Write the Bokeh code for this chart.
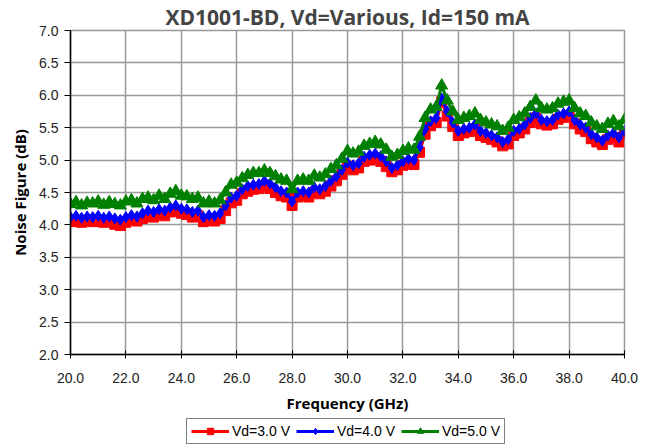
from bokeh.plotting import figure
from bokeh.layouts import column
from bokeh.models import Legend, LegendItem, FixedTicker, Range1d, NumeralTickFormatter, ColumnDataSource
from bokeh.embed import file_html
from bokeh.resources import INLINE

# Frequency points (GHz), 0.2 GHz spacing
freq = [round(20.0 + 0.2 * i, 1) for i in range(101)]

nf_vd3 = [
    4.05, 4.06, 4.04, 4.06, 4.05, 4.06, 4.04, 4.05, 4.01, 3.99,
    4.04, 4.08, 4.06, 4.10, 4.14, 4.12, 4.16, 4.14, 4.20, 4.22,
    4.18, 4.16, 4.12, 4.14, 4.05, 4.08, 4.06, 4.10, 4.22, 4.34,
    4.38, 4.48, 4.52, 4.55, 4.56, 4.60, 4.56, 4.50, 4.45, 4.43,
    4.30, 4.43, 4.45, 4.43, 4.50, 4.48, 4.52, 4.60, 4.68, 4.78,
    4.90, 4.85, 4.88, 4.98, 5.00, 5.03, 4.98, 4.90, 4.82, 4.85,
    4.92, 4.95, 4.93, 5.12, 5.40, 5.53, 5.58, 5.90, 5.68, 5.52,
    5.38, 5.42, 5.44, 5.48, 5.38, 5.35, 5.32, 5.28, 5.22, 5.25,
    5.38, 5.42, 5.48, 5.58, 5.65, 5.56, 5.54, 5.56, 5.63, 5.66,
    5.68, 5.56, 5.48, 5.44, 5.33, 5.28, 5.24, 5.32, 5.35, 5.28,
    5.40,
]

nf_vd4 = [
    4.12, 4.14, 4.11, 4.13, 4.12, 4.14, 4.11, 4.13, 4.10, 4.08,
    4.12, 4.15, 4.13, 4.18, 4.22, 4.20, 4.24, 4.22, 4.27, 4.30,
    4.25, 4.24, 4.20, 4.22, 4.12, 4.15, 4.14, 4.18, 4.30, 4.42,
    4.45, 4.55, 4.60, 4.62, 4.63, 4.68, 4.64, 4.58, 4.52, 4.50,
    4.36, 4.50, 4.52, 4.50, 4.58, 4.55, 4.60, 4.68, 4.75, 4.85,
    4.96, 4.92, 4.95, 5.05, 5.08, 5.10, 5.06, 4.98, 4.88, 4.92,
    4.98, 5.02, 5.00, 5.20, 5.48, 5.60, 5.65, 5.95, 5.75, 5.58,
    5.45, 5.48, 5.50, 5.55, 5.45, 5.42, 5.38, 5.35, 5.28, 5.32,
    5.45, 5.48, 5.55, 5.65, 5.72, 5.62, 5.60, 5.62, 5.70, 5.72,
    5.75, 5.62, 5.55, 5.50, 5.40, 5.35, 5.30, 5.38, 5.42, 5.35,
    5.45,
]

nf_vd5 = [
    4.32, 4.35, 4.30, 4.34, 4.33, 4.36, 4.31, 4.35, 4.32, 4.30,
    4.36, 4.38, 4.33, 4.40, 4.42, 4.38, 4.45, 4.40, 4.48, 4.52,
    4.45, 4.44, 4.40, 4.42, 4.33, 4.36, 4.33, 4.38, 4.50, 4.62,
    4.65, 4.72, 4.77, 4.80, 4.80, 4.84, 4.80, 4.75, 4.70, 4.68,
    4.55, 4.68, 4.70, 4.68, 4.76, 4.73, 4.78, 4.86, 4.92, 5.02,
    5.14, 5.10, 5.13, 5.22, 5.25, 5.28, 5.24, 5.16, 5.05, 5.08,
    5.14, 5.18, 5.16, 5.36, 5.65, 5.78, 5.82, 6.15, 5.92, 5.75,
    5.62, 5.65, 5.68, 5.72, 5.62, 5.58, 5.55, 5.52, 5.45, 5.50,
    5.62, 5.66, 5.72, 5.82, 5.92, 5.80, 5.78, 5.80, 5.87, 5.90,
    5.92, 5.80, 5.72, 5.68, 5.58, 5.52, 5.48, 5.56, 5.60, 5.52,
    5.62,
]

series_labels = ["Vd=3.0 V", "Vd=4.0 V", "Vd=5.0 V"]
series_colors = ["#FF0000", "#0000FF", "#008000"]
series_markers = ["square", "diamond", "triangle"]
marker_sizes = [10, 11, 12]
x_ticks = [20, 22, 24, 26, 28, 30, 32, 34, 36, 38, 40]
y_ticks = [2.0, 2.5, 3.0, 3.5, 4.0, 4.5, 5.0, 5.5, 6.0, 6.5, 7.0]

p = figure(width=649, height=418, output_backend="svg", toolbar_location=None,
           x_range=Range1d(20, 40), y_range=Range1d(2.0, 7.0),
           min_border_left=70, min_border_right=25, min_border_top=30, min_border_bottom=64)

p.title.text = "XD1001-BD, Vd=Various, Id=150 mA"
p.title.align = "center"
p.title.text_font = "Open Sans"
p.title.text_font_style = "bold"
p.title.text_font_size = "21px"
p.title.standoff = 0
p.title.offset = -4

p.outline_line_color = "#999999"
p.outline_line_width = 1.5

for g in (p.xgrid[0], p.ygrid[0]):
    g.grid_line_color = "#999999"
    g.grid_line_width = 1.5

p.xaxis.ticker = FixedTicker(ticks=x_ticks)
p.yaxis.ticker = FixedTicker(ticks=y_ticks)
p.xaxis.formatter = NumeralTickFormatter(format="0.0")
p.yaxis.formatter = NumeralTickFormatter(format="0.0")
for ax in (p.xaxis[0], p.yaxis[0]):
    ax.axis_line_color = "#000000"
    ax.axis_line_width = 1.5
    ax.major_tick_line_color = "#000000"
    ax.minor_tick_line_color = None
    ax.major_label_text_font = "Liberation Sans"
    ax.major_label_text_font_size = "14px"
    ax.major_label_text_color = "#222222"
    ax.axis_label_text_font = "Open Sans"
    ax.axis_label_text_font_style = "bold"
    ax.axis_label_text_font_size = "15px"
    ax.axis_label_text_color = "#000000"
p.xaxis.major_tick_in = 4
p.xaxis.major_tick_out = 4
p.yaxis.major_tick_in = 0
p.yaxis.major_tick_out = 6
p.xaxis.major_label_standoff = 14
p.yaxis.major_label_standoff = 6
p.xaxis.axis_label = "Frequency (GHz)"
p.yaxis.axis_label = "Noise Figure (dB)"
p.xaxis.axis_label_standoff = 7
p.yaxis.axis_label_standoff = 6

src = ColumnDataSource(dict(f=freq, a=nf_vd3, b=nf_vd4, c=nf_vd5))
for col, c, m, s in zip(["a", "b", "c"], series_colors, series_markers, marker_sizes):
    p.line("f", col, source=src, line_color=c, line_width=3)
    p.scatter("f", col, source=src, marker=m, size=s, fill_color=c, line_color=c)

# Legend strip below the chart (its glyphs use the same data, kept out of this strip's view)
lf = figure(width=649, height=26, output_backend="svg", toolbar_location=None,
            x_axis_type=None, y_axis_type=None, x_range=Range1d(0, 1), y_range=Range1d(0, 1),
            min_border=0)
lf.outline_line_color = None
items = []
for lab, col, c, m, s in zip(series_labels, ["a", "b", "c"], series_colors, series_markers, marker_sizes):
    rl = lf.line("f", col, source=src, line_color=c, line_width=3)
    rs = lf.scatter("f", col, source=src, marker=m, size=s - 2, fill_color=c, line_color=c)
    items.append(LegendItem(label=lab, renderers=[rl, rs]))

legend = Legend(items=items, orientation="horizontal", location=(116, 0))
legend.label_text_font = "Liberation Sans"
legend.label_text_font_size = "14px"
legend.label_text_color = "#000000"
legend.glyph_width = 38
legend.glyph_height = 16
legend.spacing = 6
legend.padding = 4
legend.margin = 0
legend.label_standoff = 3
legend.border_line_color = "#000000"
legend.border_line_width = 1
lf.add_layout(legend, "center")

layout = column(p, lf, spacing=0)
open("out.html", "w").write(file_html(layout, INLINE))
